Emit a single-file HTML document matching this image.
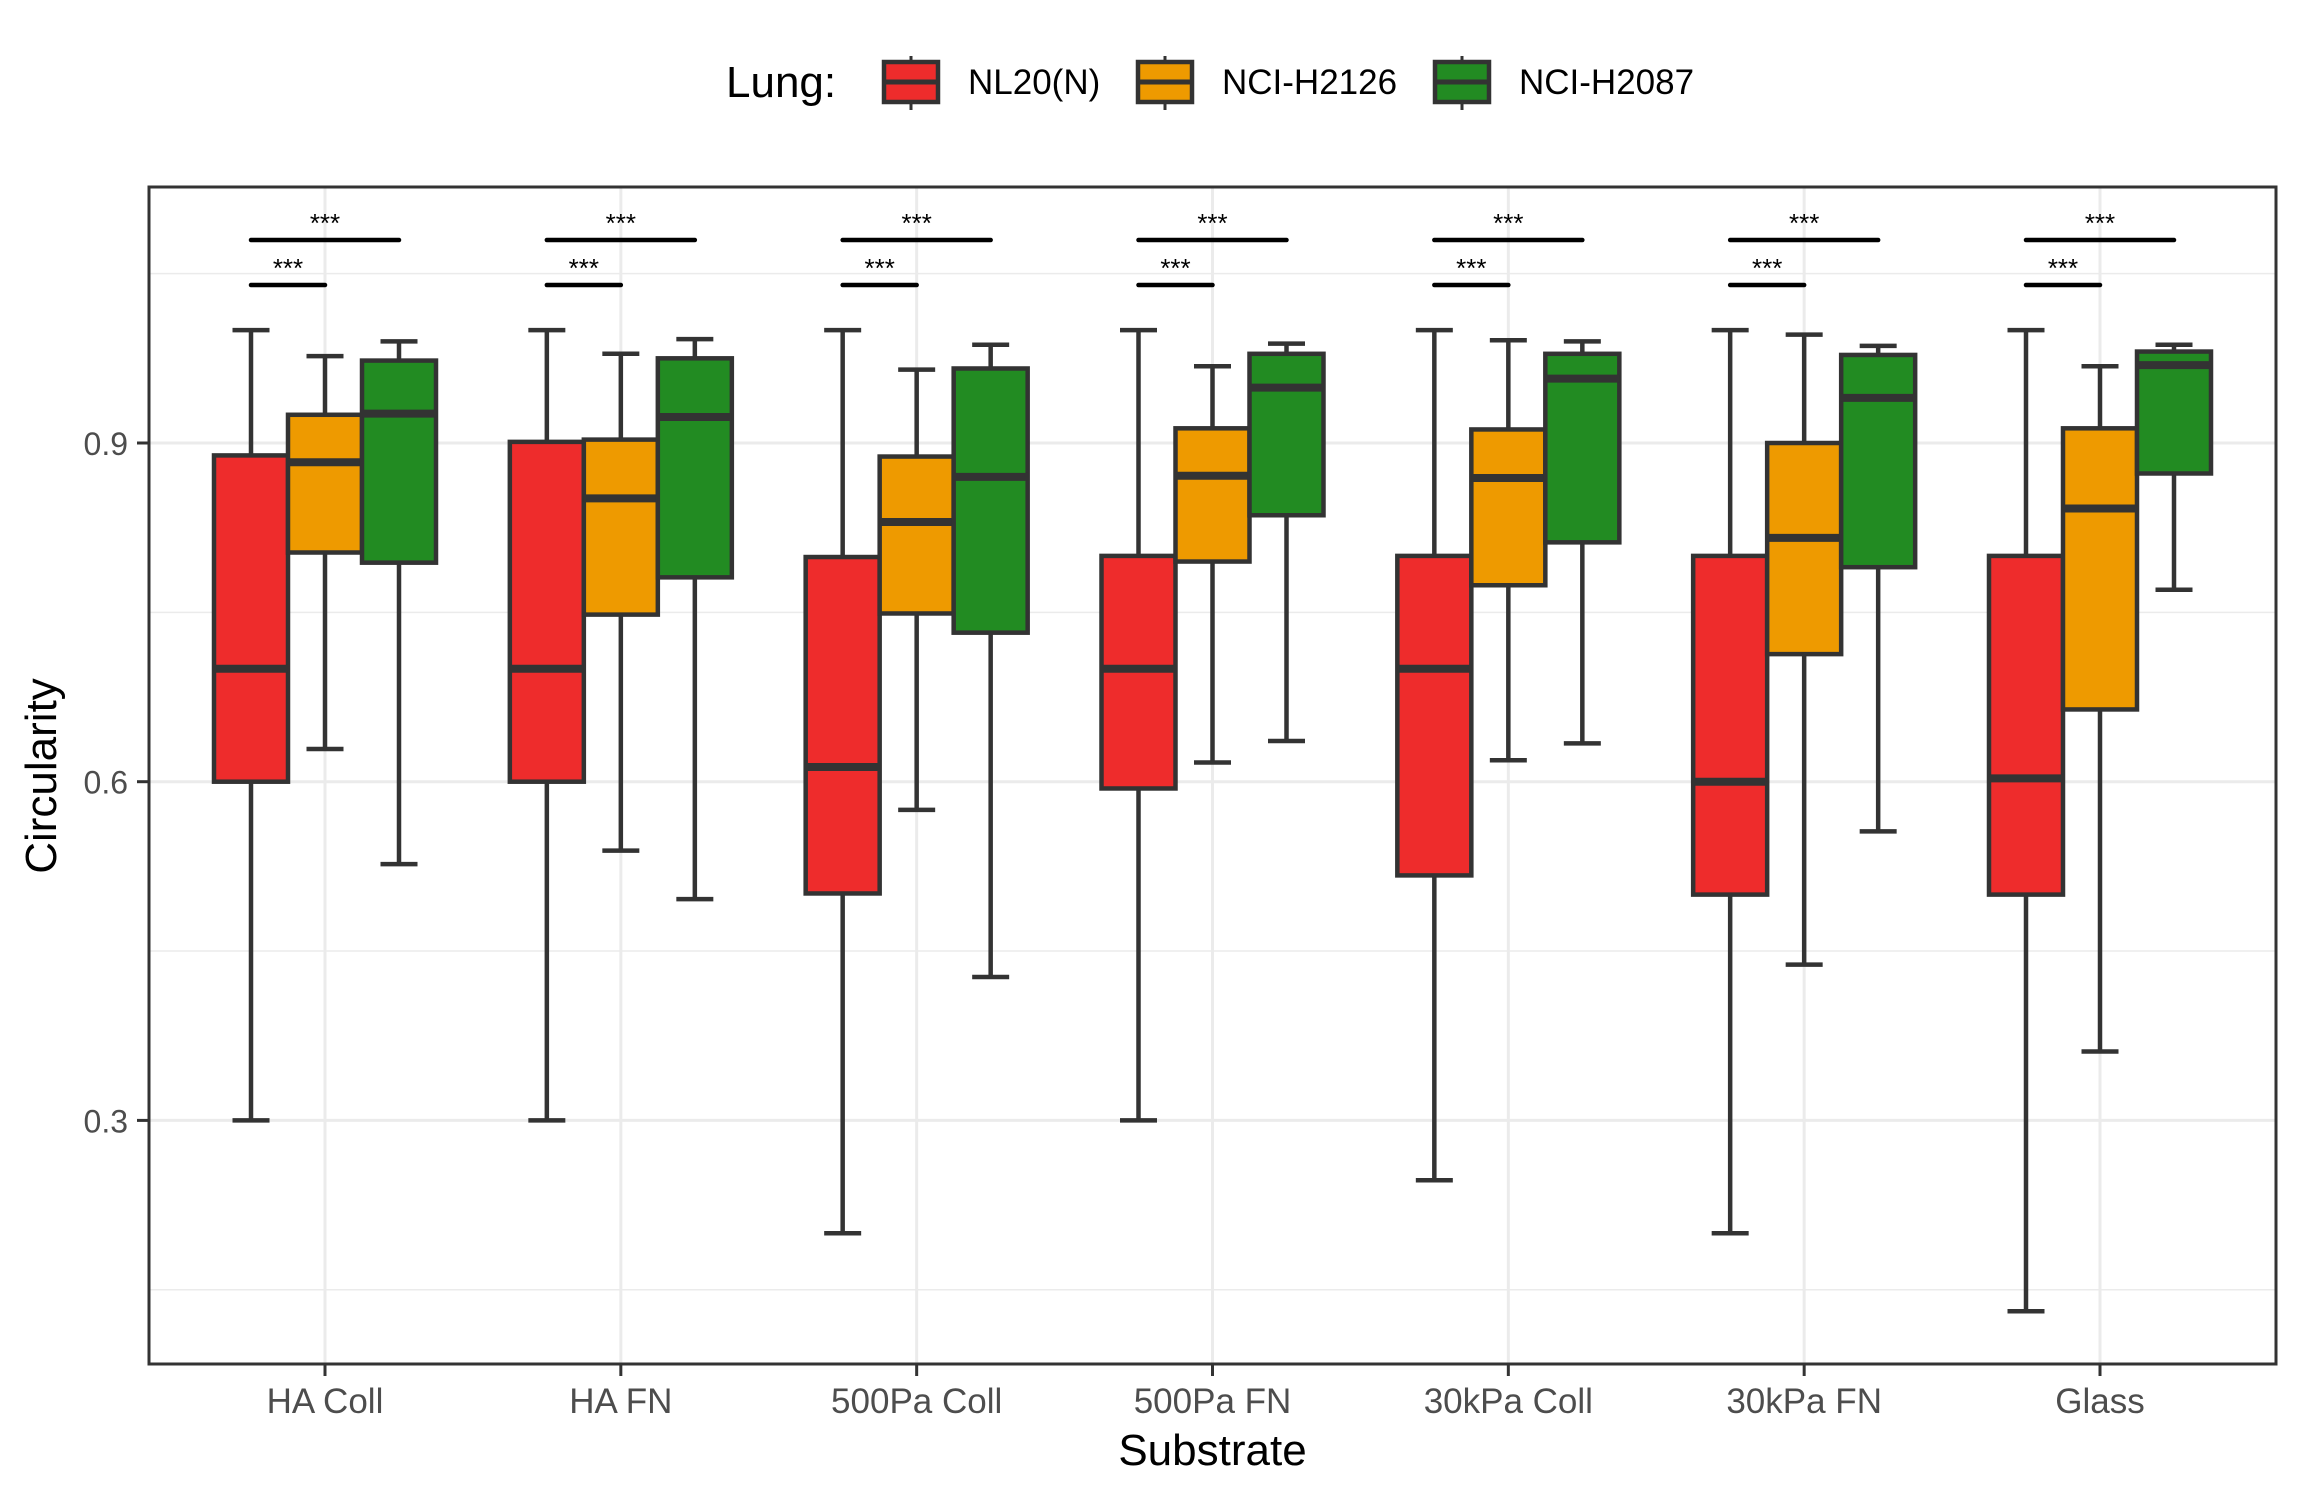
<!DOCTYPE html>
<html><head><meta charset="utf-8"><style>
html,body{margin:0;padding:0;background:#fff;}
svg{display:block;font-family:"Liberation Sans",Arial,sans-serif;}
</style></head><body>
<svg id="chart" width="2300" height="1500" viewBox="0 0 2300 1500" xmlns="http://www.w3.org/2000/svg"></svg>
<script>
const categories = ["HA Coll","HA FN","500Pa Coll","500Pa FN","30kPa Coll","30kPa FN","Glass"];
const seriesNames = ["NL20(N)","NCI-H2126","NCI-H2087"];
const seriesColors = ["#ee2c2c","#ee9a00","#228b22"];
// each entry: [lowerWhisker, q1, median, q3, upperWhisker]
const nl20 = [
  [0.30,0.600,0.700,0.889,1.000],
  [0.30,0.600,0.700,0.901,1.000],
  [0.20,0.501,0.613,0.799,1.000],
  [0.30,0.594,0.700,0.800,1.000],
  [0.247,0.517,0.700,0.800,1.000],
  [0.20,0.500,0.600,0.800,1.000],
  [0.131,0.500,0.603,0.800,1.000]
];
const h2126 = [
  [0.629,0.803,0.883,0.925,0.977],
  [0.539,0.748,0.851,0.903,0.979],
  [0.575,0.749,0.830,0.888,0.965],
  [0.617,0.795,0.871,0.913,0.968],
  [0.619,0.774,0.869,0.912,0.991],
  [0.438,0.713,0.816,0.900,0.996],
  [0.361,0.664,0.842,0.913,0.968]
];
const h2087 = [
  [0.527,0.794,0.926,0.973,0.990],
  [0.496,0.781,0.923,0.975,0.992],
  [0.427,0.732,0.870,0.966,0.987],
  [0.636,0.836,0.949,0.979,0.988],
  [0.634,0.812,0.957,0.979,0.990],
  [0.556,0.790,0.940,0.978,0.986],
  [0.770,0.873,0.969,0.981,0.987]
];
const yTicks = [0.3,0.6,0.9];
const yMinor = [0.15,0.45,0.75,1.05];
const sigLabels = ["***","***"];

const svg = document.getElementById('chart');
const NS = "http://www.w3.org/2000/svg";
const P = {l:149, r:2276, t:187, b:1364};
function y(v){ return 443 - (v-0.9)*1129; }
const step = (2100-325)/6;
function x(i){ return 325 + i*step; }
const bw = 74;
function mk(tag, attrs, parent){
  const e = document.createElementNS(NS, tag);
  for (const k in attrs) e.setAttribute(k, attrs[k]);
  (parent||svg).appendChild(e);
  return e;
}
// panel background
let bg = mk('rect',{x:P.l,y:P.t,width:P.r-P.l,height:P.b-P.t,fill:'#fff'});


// grid
const grid = mk('g',{});


yMinor.forEach(v=>{ mk('line',{x1:P.l,x2:P.r,y1:y(v),y2:y(v),stroke:'#ebebeb','stroke-width':1.5},grid); });
yTicks.forEach(v=>{ mk('line',{x1:P.l,x2:P.r,y1:y(v),y2:y(v),stroke:'#ebebeb','stroke-width':3},grid); });
categories.forEach((c,i)=>{ mk('line',{x1:x(i),x2:x(i),y1:P.t,y2:P.b,stroke:'#ebebeb','stroke-width':3},grid); });
// boxes
const allSeries = [nl20,h2126,h2087];
allSeries.forEach((ser,s)=>{
  const g = mk('g',{});
  
  
  ser.forEach((d,i)=>{
    const cx = x(i) + (s-1)*bw;
    const bx = mk('g',{},g);
    
    
    const st = {stroke:'#333','stroke-width':4.5};
    mk('line',Object.assign({x1:cx,x2:cx,y1:y(d[0]),y2:y(d[1])},st),bx);
    mk('line',Object.assign({x1:cx,x2:cx,y1:y(d[3]),y2:y(d[4])},st),bx);
    mk('line',Object.assign({x1:cx-bw/4,x2:cx+bw/4,y1:y(d[0]),y2:y(d[0])},st),bx);
    mk('line',Object.assign({x1:cx-bw/4,x2:cx+bw/4,y1:y(d[4]),y2:y(d[4])},st),bx);
    mk('rect',{x:cx-bw/2,y:y(d[3]),width:bw,height:y(d[1])-y(d[3]),fill:seriesColors[s],stroke:'#333','stroke-width':4.5},bx);
    mk('line',{x1:cx-bw/2,x2:cx+bw/2,y1:y(d[2]),y2:y(d[2]),stroke:'#333','stroke-width':8},bx);
  });
});
// significance
const sig = mk('g',{});


categories.forEach((c,i)=>{
  const a = x(i)-bw, b = x(i), c2 = x(i)+bw;
  mk('line',{x1:a,x2:c2,y1:240,y2:240,stroke:'#000','stroke-width':4.5,'stroke-linecap':'round'},sig);
  mk('line',{x1:a,x2:b,y1:285,y2:285,stroke:'#000','stroke-width':4.5,'stroke-linecap':'round'},sig);
  const t1 = mk('text',{x:b,y:232,'text-anchor':'middle','font-size':26,fill:'#000'},sig); t1.textContent=sigLabels[0];
  const t2 = mk('text',{x:(a+b)/2,y:277,'text-anchor':'middle','font-size':26,fill:'#000'},sig); t2.textContent=sigLabels[1];
});
// border
let br = mk('rect',{x:P.l,y:P.t,width:P.r-P.l,height:P.b-P.t,fill:'none',stroke:'#333','stroke-width':3});


// y axis
const ya = mk('g',{});


yTicks.forEach(v=>{
  mk('line',{x1:137,x2:P.l,y1:y(v),y2:y(v),stroke:'#333','stroke-width':3},ya);
  const t = mk('text',{x:128,y:y(v)+12,'text-anchor':'end','font-size':32,fill:'#4d4d4d'},ya);
  
  
  t.textContent = v.toFixed(1);
});
// x axis
const xa = mk('g',{});


categories.forEach((c,i)=>{
  mk('line',{x1:x(i),x2:x(i),y1:P.b,y2:P.b+12,stroke:'#333','stroke-width':3},xa);
  const t = mk('text',{x:x(i),y:1413,'text-anchor':'middle','font-size':35,fill:'#4d4d4d'},xa);
  
  
  t.textContent = c;
});
let xt = mk('text',{x:(P.l+P.r)/2,y:1465,'text-anchor':'middle','font-size':44,fill:'#000'});


xt.textContent='Substrate';
let yt = mk('text',{x:0,y:0,'text-anchor':'middle','font-size':44,fill:'#000',transform:'translate(56,776) rotate(-90)'});


yt.textContent='Circularity';
// legend
const lg = mk('g',{});


let lt = mk('text',{x:726,y:97,'font-size':44,fill:'#000'},lg);


lt.textContent='Lung:';
const keyX = [884,1138,1435];
seriesNames.forEach((n,s)=>{
  const e = mk('g',{},lg);
  
  
  const kx = keyX[s], cx = kx+27;
  mk('line',{x1:cx,x2:cx,y1:56,y2:110,stroke:'#333','stroke-width':3},e);
  mk('rect',{x:kx,y:62,width:54,height:40,fill:seriesColors[s],stroke:'#333','stroke-width':4.5},e);
  mk('line',{x1:kx,x2:kx+54,y1:82,y2:82,stroke:'#333','stroke-width':5},e);
  const t = mk('text',{x:kx+84,y:94,'font-size':35,fill:'#000'},e);
  t.textContent = n;
});
</script>
</body></html>
